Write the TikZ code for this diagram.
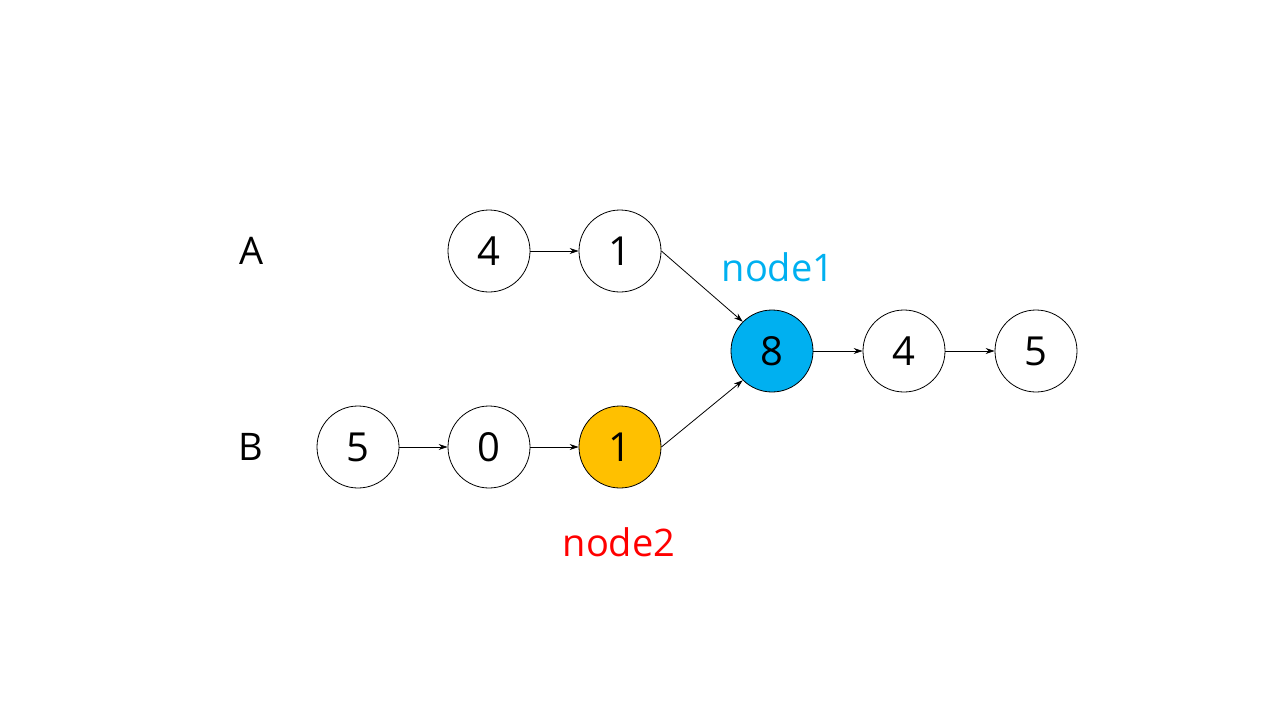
\documentclass[tikz,border=0pt]{standalone}
\usepackage{fontspec}
\setmainfont{Open Sans}
\usetikzlibrary{arrows.meta}
\definecolor{cblue}{HTML}{00B0F0}
\definecolor{cyel}{HTML}{FFC000}
\begin{document}
\begin{tikzpicture}[x=1pt,y=-1pt,
  lnode/.style={circle,draw=black,line width=0.8pt,minimum size=82pt,inner sep=0pt,font=\fontsize{40}{48}\selectfont},
  lbl/.style={font=\fontsize{38}{46}\selectfont},
  arr/.style={-{Stealth[length=9pt,width=6pt]},line width=0.8pt}]
\useasboundingbox (0,0) rectangle (1280,720);
\node[lbl] (la) at (252,251) {A};
\node[lbl] (lb) at (251,447) {B};
\node[lnode] (a1) at (489,251) {4};
\node[lnode] (a2) at (620,251) {1};
\node[lnode] (b1) at (358,447) {5};
\node[lnode] (b2) at (489,447) {0};
\node[lnode,fill=cyel] (b3) at (620,447) {1};
\node[lnode,fill=cblue] (c1) at (772,351) {8};
\node[lnode] (c2) at (904,351) {4};
\node[lnode] (c3) at (1036,351) {5};
\node[lbl,text=cblue] (n1) at (778,267) {node1};
\node[lbl,text=red] (n2) at (619,542) {node2};
\draw[arr] (a1.east) -- (a2.west);
\draw[arr] (b1.east) -- (b2.west);
\draw[arr] (b2.east) -- (b3.west);
\draw[arr] (a2.east) -- (c1.north west);
\draw[arr] (b3.east) -- (c1.south west);
\draw[arr] (c1.east) -- (c2.west);
\draw[arr] (c2.east) -- (c3.west);
\end{tikzpicture}
\end{document}
